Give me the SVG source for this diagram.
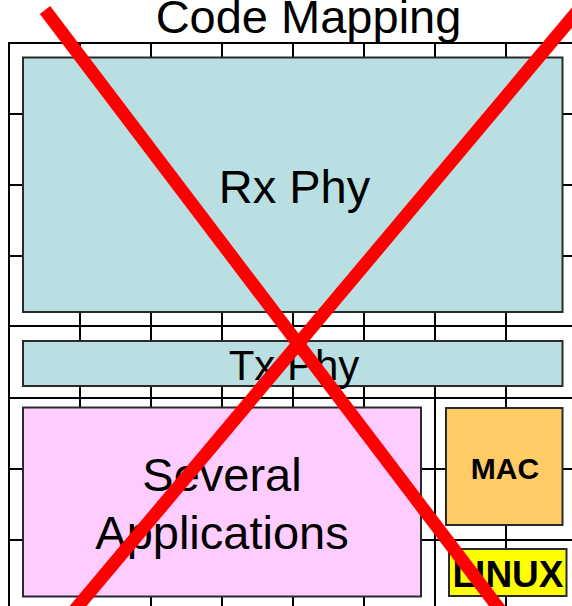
<svg xmlns="http://www.w3.org/2000/svg" width="572" height="606" viewBox="0 0 572 606">
  <style>
    .grid line { stroke: #000; stroke-width: 2; }
    .box { stroke: #2a2a2a; stroke-width: 2; }
    .lbl { font-family: "Liberation Sans", Arial, sans-serif; fill: #000; text-anchor: middle; }
    .bold { font-weight: bold; }
    .strike line { stroke: #ff0000; stroke-width: 13; stroke-linecap: butt; }
  </style>

  <rect width="572" height="606" fill="#fff"/>

  <!-- title -->
  <text id="title" class="lbl" x="308.5" y="33" font-size="47">Code Mapping</text>

  <!-- background grid of the floor plan -->
  <g id="grid" class="grid">
    <line x1="9" y1="42.5" x2="9" y2="606"/>
    <line x1="80" y1="42.5" x2="80" y2="606"/>
    <line x1="151" y1="42.5" x2="151" y2="606"/>
    <line x1="222" y1="42.5" x2="222" y2="606"/>
    <line x1="293" y1="42.5" x2="293" y2="606"/>
    <line x1="364" y1="42.5" x2="364" y2="606"/>
    <line x1="435" y1="42.5" x2="435" y2="606"/>
    <line x1="506" y1="42.5" x2="506" y2="606"/>
    <line x1="8" y1="43" x2="572" y2="43"/>
    <line x1="8" y1="114" x2="572" y2="114"/>
    <line x1="8" y1="185" x2="572" y2="185"/>
    <line x1="8" y1="256" x2="572" y2="256"/>
    <line x1="8" y1="326" x2="572" y2="326"/>
    <line x1="8" y1="398" x2="572" y2="398"/>
    <line x1="8" y1="469" x2="572" y2="469"/>
    <line x1="8" y1="540" x2="572" y2="540"/>
  </g>

  <g id="rx-phy">
    <rect class="box" x="23" y="57.5" width="539.5" height="254.5" fill="#badfe3"/>
    <text class="lbl" x="294.5" y="203" font-size="47">Rx Phy</text>
  </g>

  <g id="tx-phy">
    <rect class="box" x="23" y="341" width="539.5" height="45" fill="#badfe3"/>
    <text class="lbl" x="294" y="380" font-size="42">Tx Phy</text>
  </g>

  <g id="applications">
    <rect class="box" x="23" y="407.5" width="398" height="189" fill="#ffccff"/>
    <text class="lbl" x="222" y="491" font-size="47">Several</text>
    <text class="lbl" x="222" y="548.5" font-size="47">Applications</text>
  </g>

  <g id="mac">
    <rect class="box" x="446" y="408" width="116.5" height="117" fill="#ffcc66"/>
    <text class="lbl bold" x="505" y="479" font-size="30">MAC</text>
  </g>

  <g id="linux">
    <rect class="box" x="449" y="549" width="117.5" height="47" fill="#ffff00"/>
    <text class="lbl bold" x="508" y="587" font-size="37">LINUX</text>
  </g>

  <!-- red cross over the whole plan -->
  <g id="strike" class="strike">
    <line x1="45" y1="10" x2="512.2" y2="626"/>
    <line x1="600.3" y1="-16" x2="61.3" y2="626"/>
  </g>
</svg>
